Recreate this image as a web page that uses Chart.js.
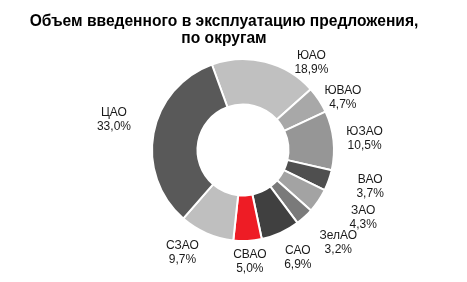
<!DOCTYPE html>
<html>
<head>
<meta charset="utf-8">
<script src="https://cdn.jsdelivr.net/npm/chart.js@4.4.1/dist/chart.umd.min.js"></script>
<style>
    html, body { margin: 0; padding: 0; background: #ffffff; }
    #wrap { position: relative; width: 467px; height: 282px; }
    #title {
        position: absolute; left: 0; top: 12px; width: 448px;
        text-align: center; font: bold 15.6px/17px "Liberation Sans", Arial, sans-serif;
        color: #000000;
    }
</style>
</head>
<body>
<div id="wrap">
    <canvas id="districtChart"></canvas>
    <div id="title">Объем введенного в эксплуатацию предложения,<br>по округам</div>
</div>
<script>
const districts = ["ЮАО", "ЮВАО", "ЮЗАО", "ВАО", "ЗАО", "ЗелАО", "САО", "СВАО", "СЗАО", "ЦАО"];
const shares = [18.9, 4.7, 10.5, 3.7, 4.3, 3.2, 6.9, 5.0, 9.7, 33.0];
const sliceColors = ["#c0c0c0", "#a8a8a8", "#969696", "#4f4f4f", "#a3a3a3", "#7a7a7a", "#404040", "#ee1c25", "#bfbfbf", "#595959"];

// manual label nudges (like hand-placed data labels in the source chart)
const labelNudges = [[40, 23], [1, 10], [4, 1], [20, -1], [26, 4], [15, 9], [8, 4], [1, -2], [-14, -1], [-14, -10]];

const outsideLabels = {
    id: 'outsideLabels',
    afterDatasetsDraw(chart) {
        const ctx = chart.ctx;
        const meta = chart.getDatasetMeta(0);
        ctx.save();
        ctx.font = '12px "Liberation Sans", Arial, sans-serif';
        ctx.fillStyle = '#1a1a1a';
        ctx.textAlign = 'center';
        ctx.textBaseline = 'middle';
        meta.data.forEach((arc, i) => {
            const mid = (arc.startAngle + arc.endAngle) / 2;
            const dx = Math.cos(mid), dy = Math.sin(mid);
            const line1 = districts[i];
            const line2 = shares[i].toFixed(1).replace('.', ',') + '%';
            const w = Math.max(ctx.measureText(line1).width, ctx.measureText(line2).width);
            const h = 27;
            const r = arc.outerRadius + 9;
            const cx = arc.x + dx * r + dx * w / 2 + labelNudges[i][0];
            const cy = arc.y + dy * r + dy * h / 2 + labelNudges[i][1];
            ctx.fillText(line1, cx, cy - 7);
            ctx.fillText(line2, cx, cy + 7);
        });
        ctx.restore();
    }
};

new Chart(document.getElementById('districtChart').getContext('2d'), {
    type: 'doughnut',
    data: {
        labels: districts,
        datasets: [{
            data: shares,
            backgroundColor: sliceColors,
            borderColor: '#ffffff',
            borderWidth: 2,
            hoverOffset: 0
        }]
    },
    options: {
        responsive: true,
        maintainAspectRatio: false,
        animation: false,
        rotation: -20,
        cutout: '50%',
        layout: {
            padding: { left: 19, right: 0, top: 58, bottom: 40 }
        },
        plugins: {
            legend: { display: false },
            tooltip: { enabled: false },
            title: { display: false }
        }
    },
    plugins: [outsideLabels]
});
</script>
</body>
</html>
